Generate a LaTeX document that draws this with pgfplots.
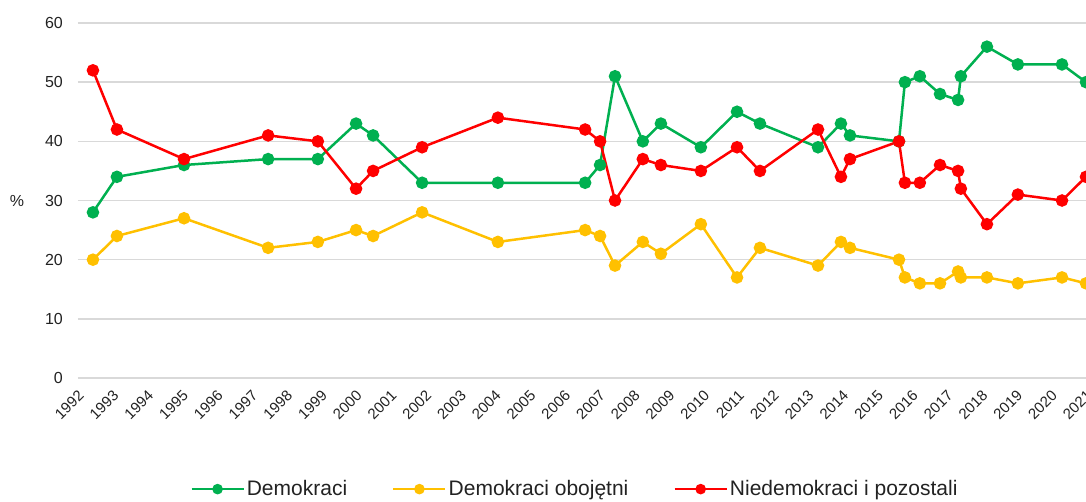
\documentclass[border=0pt]{standalone}
\usepackage{pgfplots}
\pgfplotsset{compat=1.18}
\usepackage{pgfplotstable}
\usepackage{fontspec}
\setmainfont{Liberation Sans}
\definecolor{cgreen}{HTML}{00B050}
\definecolor{cyellow}{HTML}{FFC000}
\definecolor{cred}{HTML}{FF0000}
\definecolor{cgrid}{HTML}{D9D9D9}
\definecolor{ctext}{HTML}{222222}
\pgfplotstableread{
x        g   y   r
1992.43  28  20  52
1993.12  34  24  42
1995.05  36  27  37
1997.47  37  22  41
1998.90  37  23  40
2000.00  43  25  32
2000.49  41  24  35
2001.90  33  28  39
2004.08  33  23  44
2006.59  33  25  42
2007.02  36  24  40
2007.45  51  19  30
2008.25  40  23  37
2008.77  43  21  36
2009.92  39  26  35
2010.96  45  17  39
2011.62  43  22  35
2013.29  39  19  42
2013.95  43  23  34
2014.21  41  22  37
2015.62  40  20  40
2015.79  50  17  33
2016.22  51  16  33
2016.80  48  16  36
2017.32  47  18  35
2017.40  51  17  32
2018.15  56  17  26
2019.04  53  16  31
2020.31  53  17  30
2021.00  50  16  34
}\datatable
\begin{document}
\begin{tikzpicture}
\useasboundingbox (-78pt,-123pt) rectangle (1008pt,378pt);
\begin{axis}[
  scale only axis,
  width=1008pt, height=355pt,
  xmin=1992, xmax=2021,
  ymin=0, ymax=60,
  ytick={0,10,...,60},
  xtick={1992,1993,...,2021},
  axis line style={draw=none},
  major tick length=0pt,
  ymajorgrids,
  grid style={cgrid, line width=1.5pt},
  /pgf/number format/.cd, 1000 sep={}, assume math mode=true,
  /pgfplots/.cd,
  yticklabel style={font=\fontsize{16}{19}\selectfont, text=ctext, anchor=east, inner sep=0pt, xshift=-15pt},
  xticklabel style={font=\fontsize{15}{18}\selectfont, text=ctext, rotate=45, anchor=east, inner sep=0pt, xshift=-8.5pt, yshift=-13pt},
  clip=false,
  legend columns=3,
  legend style={at={(rel axis cs:0.493,-0.313)}, anchor=center, draw=none, fill=none,
    font=\fontsize{21}{24}\selectfont, text=ctext,
    /tikz/every even column/.append style={column sep=43pt},
    nodes={inner sep=2pt}},
  legend image code/.code={\draw[mark repeat=2,mark phase=2,#1,mark size=4pt] plot coordinates {(0pt,0pt)(26pt,0pt)(52pt,0pt)};},
  every axis plot/.append style={line width=2.5pt, mark=*, mark size=5pt},
]
\addplot[cgreen, mark options={fill=cgreen, draw=cgreen}] table[x=x,y=g]{\datatable};
\addlegendentry{Demokraci}
\addplot[cyellow, mark options={fill=cyellow, draw=cyellow}] table[x=x,y=y]{\datatable};
\addlegendentry{Demokraci obojętni}
\addplot[cred, mark options={fill=cred, draw=cred}] table[x=x,y=r]{\datatable};
\addlegendentry{Niedemokraci i pozostali}
\end{axis}
\node[text=ctext, font=\fontsize{16}{19}\selectfont] at (-61pt,177.5pt) {\%};
\end{tikzpicture}
\end{document}
